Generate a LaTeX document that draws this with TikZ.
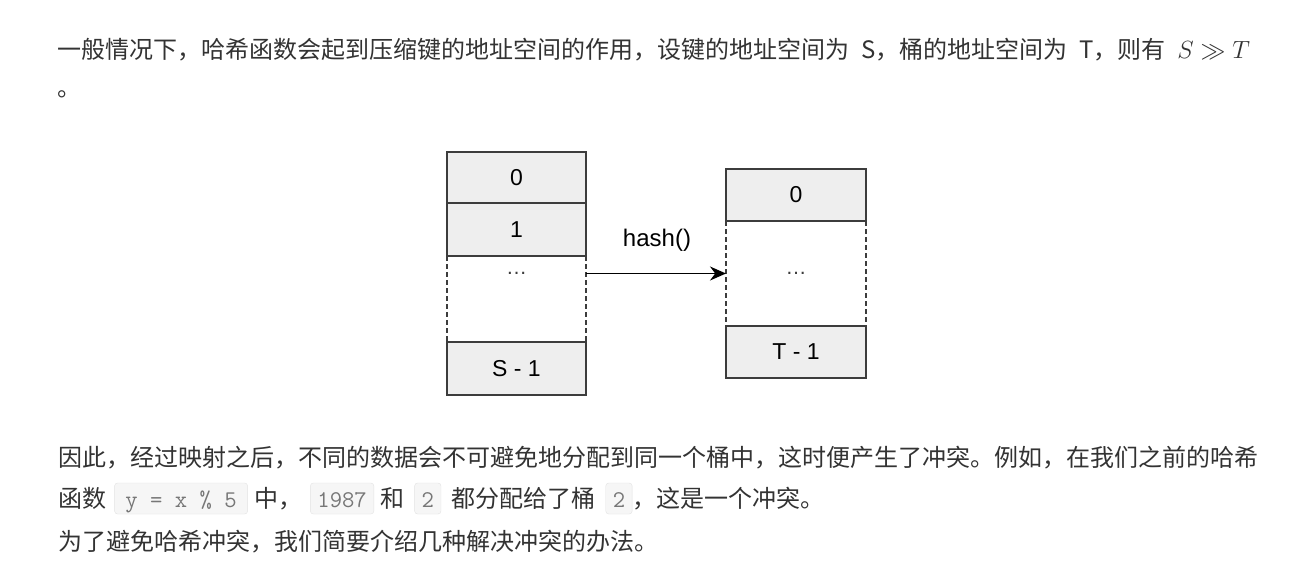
\documentclass[tikz,border=0pt]{standalone}
\usepackage{fontspec}
\usepackage{amsmath}
\usepackage{amssymb}
\usetikzlibrary{arrows.meta, positioning}
\newfontfamily\cjkfont{Noto Sans CJK SC}[WordSpace=2.2]
\newfontfamily\labelfont{Liberation Sans}
\definecolor{textgray}{HTML}{333333}
\definecolor{cellfill}{HTML}{EEEEEE}
\definecolor{cellline}{HTML}{3C3C3C}
\definecolor{codefill}{HTML}{F6F6F6}
\definecolor{codeline}{HTML}{E3E3E3}
\definecolor{codetext}{HTML}{777777}

\begin{document}
\begin{tikzpicture}[x=1pt, y=-1pt,
      para/.style={anchor=base west, inner sep=0pt, text=textgray,
        font=\cjkfont\fontsize{24}{28}\selectfont},
      word/.style={inner sep=0pt, text=textgray,
        font=\cjkfont\fontsize{24}{28}\selectfont},
      code/.style={rectangle, rounded corners=3pt, draw=codeline, fill=codefill,
        text=codetext, inner xsep=7pt, inner ysep=0pt, text height=24pt,
        text depth=7pt, font=\ttfamily\fontsize{24}{28}\selectfont},
      cell/.style={rectangle, draw=cellline, fill=cellfill, line width=1.5pt,
        outer sep=0pt, minimum width=139pt, font=\labelfont\fontsize{23}{26}\selectfont},
      gap/.style={rectangle, outer sep=0pt, minimum width=139pt},
      gapline/.style={draw=cellline, line width=1.5pt, dash pattern=on 5pt off 3pt},
      dots/.style={font=\labelfont\fontsize{21}{24}\selectfont, text=cellline}
    ]
      \fill[white] (0,0) rectangle (1297,579);
      \useasboundingbox (0,0) rectangle (1297,579);

      % text above
      \node[para] (p1) at (57,58) {一般情况下，哈希函数会起到压缩键的地址空间的作用，设键的地址空间为 S，桶的地址空间为 T，则有 $S \gg T$};
      \node[para] (p2) at (57,96) {。};

      % keys
      \node[cell, minimum height=51pt] (s0) at (516.5,177.5) {0};
      \node[cell, minimum height=53pt, below=0pt of s0] (s1) {1};
      \node[gap, minimum height=86pt, below=0pt of s1] (sgap) {};
      \node[cell, minimum height=53pt, below=0pt of sgap] (slast) {S - 1};

      % buckets
      \node[cell, minimum width=140pt, minimum height=52pt] (t0) at (796,195) {0};
      \node[gap, minimum width=140pt, minimum height=105pt, below=0pt of t0] (tgap) {};
      \node[cell, minimum width=140pt, minimum height=52pt, below=0pt of tgap] (tlast) {T - 1};

      \draw[gapline] (sgap.north west) -- (sgap.south west) (sgap.north east) -- (sgap.south east);
      \draw[gapline] (tgap.north west) -- (tgap.south west) (tgap.north east) -- (tgap.south east);

      \node[dots] (sdots) at (sgap.center |- tgap.center) {…};
      \node[dots] (tdots) at (tgap.center) {…};

      \draw[-{Stealth[length=16pt, width=14pt]}, line width=1.6pt, black]
        (sgap.east |- tgap.west) -- (tgap.west);
      \node[font=\labelfont\fontsize{24}{28}\selectfont] (hashlbl) at (657,240) {hash()};

      % text below
      \node[para] (b1) at (58,466) {因此，经过映射之后，不同的数据会不可避免地分配到同一个桶中，这时便产生了冲突。例如，在我们之前的哈希};
      \node[para] (b2a) at (58,507) {函数};
      \node[code, minimum width=133pt, base right=8pt of b2a] (c1) {y = x \% 5};
      \node[word, base right=6pt of c1] (b2b) {中，};
      \node[code, base right=8pt of b2b] (c2) {1987};
      \node[word, base right=6pt of c2] (b2c) {和};
      \node[code, base right=10pt of b2c] (c3) {2};
      \node[word, base right=10pt of c3] (b2d) {都分配给了桶};
      \node[code, base right=10pt of b2d] (c4) {2};
      \node[word, base right=0pt of c4] (b2e) {，这是一个冲突。};
      \node[para] (b3) at (58,550) {为了避免哈希冲突，我们简要介绍几种解决冲突的办法。};
    \end{tikzpicture}
\end{document}
